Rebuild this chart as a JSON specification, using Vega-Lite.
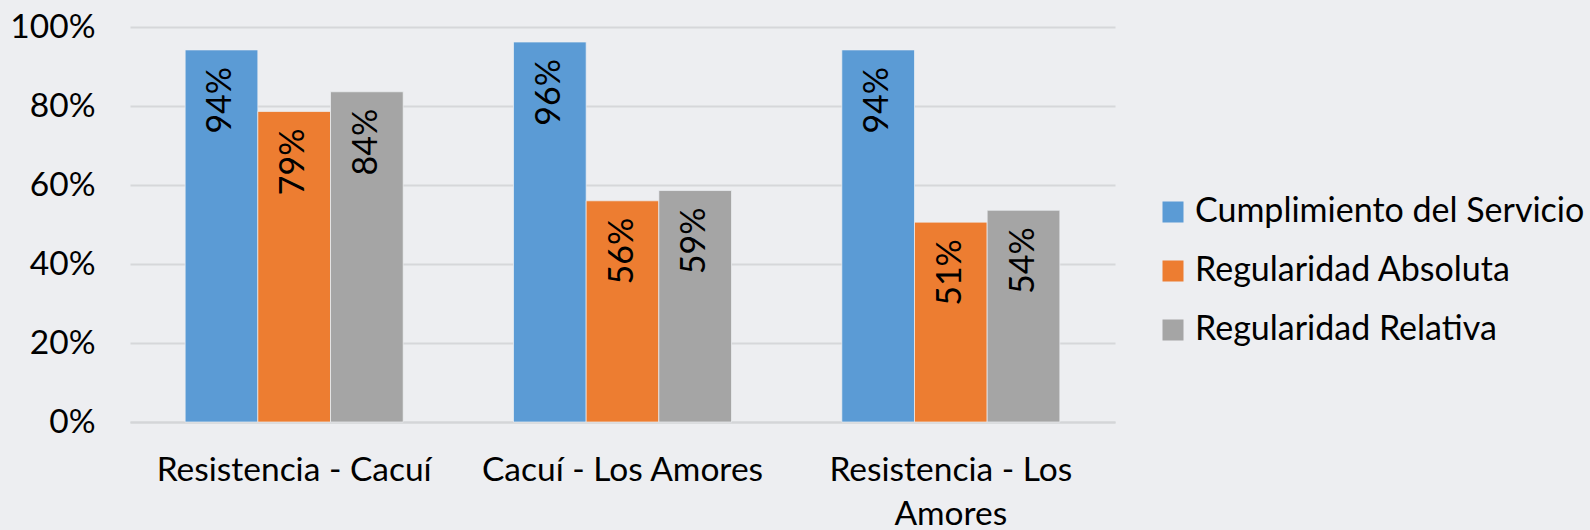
{
  "$schema": "https://vega.github.io/schema/vega-lite/v6.json",
  "width": 985,
  "height": 395,
  "autosize": {"type": "none"},
  "padding": {"left": 130, "top": 27, "right": 475, "bottom": 108},
  "background": "#edeef1",
  "config": {
    "font": "Lato",
    "view": {"stroke": null},
    "axis": {"labelFont": "Lato", "labelColor": "#000000", "labelFontSize": 33.5}
  },
  "data": {
    "values": [
      {"tramo": "Resistencia - Cacuí", "serie": "Cumplimiento del Servicio", "valor": 0.942},
      {"tramo": "Resistencia - Cacuí", "serie": "Regularidad Absoluta", "valor": 0.786},
      {"tramo": "Resistencia - Cacuí", "serie": "Regularidad Relativa", "valor": 0.836},
      {"tramo": "Cacuí - Los Amores", "serie": "Cumplimiento del Servicio", "valor": 0.962},
      {"tramo": "Cacuí - Los Amores", "serie": "Regularidad Absoluta", "valor": 0.56},
      {"tramo": "Cacuí - Los Amores", "serie": "Regularidad Relativa", "valor": 0.586},
      {"tramo": "Resistencia - Los Amores", "serie": "Cumplimiento del Servicio", "valor": 0.942},
      {"tramo": "Resistencia - Los Amores", "serie": "Regularidad Absoluta", "valor": 0.506},
      {"tramo": "Resistencia - Los Amores", "serie": "Regularidad Relativa", "valor": 0.536}
    ]
  },
  "encoding": {
    "x": {
      "field": "tramo", "type": "nominal", "sort": null, "title": null,
      "scale": {"paddingInner": 0.336, "paddingOuter": 0.168},
      "axis": {
        "labelAngle": 0, "ticks": false, "domain": true, "domainColor": "#d4d5d8", "domainWidth": 2,
        "labelPadding": 32, "labelBaseline": "top", "labelLineHeight": 44, "labelLimit": 400,
        "labelExpr": "datum.value == 'Resistencia - Los Amores' ? ['Resistencia - Los', 'Amores'] : datum.value"
      }
    },
    "xOffset": {"field": "serie", "type": "nominal", "sort": null},
    "y": {
      "field": "valor", "type": "quantitative", "title": null,
      "scale": {"domain": [0, 1], "nice": false},
      "axis": {
        "values": [0, 0.2, 0.4, 0.6, 0.8, 1], "format": ".0%", "domain": false, "ticks": false,
        "labelPadding": 35, "gridColor": "#d6d7da", "gridWidth": 2
      }
    }
  },
  "layer": [
    {
      "mark": {"type": "bar", "stroke": "#eef0f3", "strokeWidth": 0.7},
      "encoding": {
        "color": {
          "field": "serie", "type": "nominal", "sort": null, "title": null,
          "scale": {
            "domain": ["Cumplimiento del Servicio", "Regularidad Absoluta", "Regularidad Relativa"],
            "range": ["#5b9bd5", "#ed7d31", "#a5a5a5"]
          },
          "legend": {
            "orient": "none", "legendX": 1026, "legendY": 168,
            "symbolType": "square", "symbolSize": 441, "symbolStrokeWidth": 0,
            "labelFontSize": 34, "labelFont": "Lato", "labelColor": "#000000",
            "rowPadding": 25, "labelOffset": 5, "labelLimit": 500
          }
        }
      }
    },
    {
      "mark": {"type": "text", "angle": -90, "align": "right", "baseline": "middle", "dx": -17, "fontSize": 34, "color": "#000000"},
      "encoding": {
        "text": {"field": "valor", "type": "quantitative", "format": ".0%"}
      }
    }
  ]
}
